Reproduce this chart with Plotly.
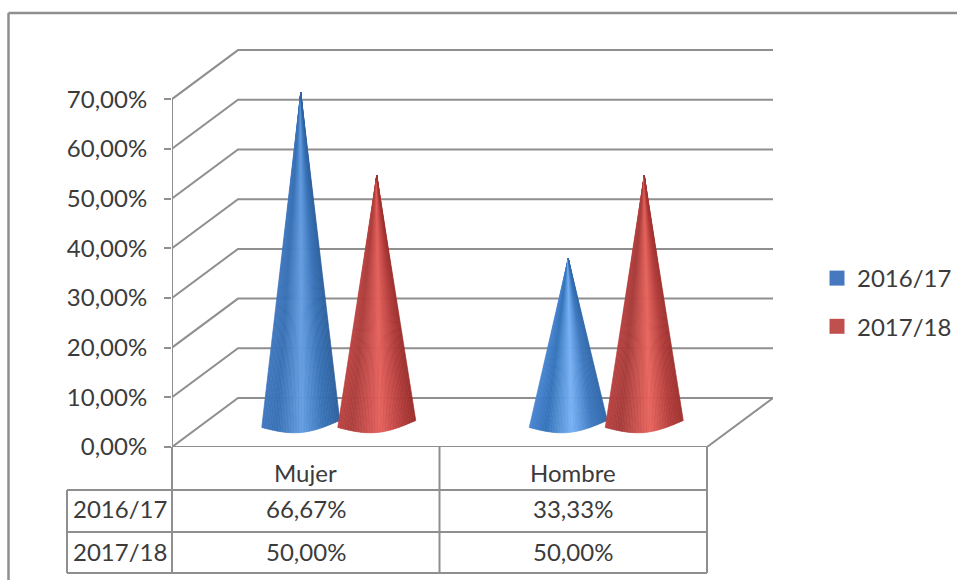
import numpy as np
import plotly.graph_objects as go

categories = ["Mujer", "Hombre"]
series_names = ["2016/17", "2017/18"]
values_2016 = [66.67, 33.33]
values_2017 = [50.0, 50.0]
tick_values = [0, 10, 20, 30, 40, 50, 60, 70]

W, H = 957, 580
L, R, T, B = 172, 773, 49, 447      # plot area in pixels
PX_PER_UNIT_Y = 4.97
PX_PER_CAT = 267.5
DEPTH_X = 66 / PX_PER_CAT
DEPTH_Y = 49 / PX_PER_UNIT_Y
GRID = "#8f8f8f"
TEXT = "#3b3b3b"
FONT = "Lato"
FS = 24

BLUE_STOPS = [
    [(0, "#4279c0"), (0.2, "#3a72b5"), (0.52, "#659ee2"), (0.8, "#3a74b8"), (1, "#2f629f")],
    [(0, "#4a86d2"), (0.22, "#3574ba"), (0.55, "#78b2f5"), (0.82, "#3e78bf"), (1, "#3269aa")],
]
RED_STOPS = [
    [(0, "#bd4543"), (0.18, "#ad403e"), (0.55, "#e5625e"), (0.85, "#b23e3c"), (1, "#9c302e")],
    [(0, "#b84341"), (0.2, "#a83e3c"), (0.58, "#e8665f"), (0.85, "#b33e3c"), (1, "#a03331")],
]


def hex2rgb(c):
    return np.array([int(c[i:i + 2], 16) for i in (1, 3, 5)], float)


def shade(stops, t):
    pos = [s[0] for s in stops]
    rgb = np.array([hex2rgb(s[1]) for s in stops])
    v = [np.interp(t, pos, rgb[:, k]) for k in range(3)]
    return "rgb(%d,%d,%d)" % tuple(v)


def px(x):
    return (x - L) / (W - L)


def py(y):
    return (H - y) / (H - T)


def pct(v):
    return f"{v:.2f}%".replace(".", ",")


fig = go.Figure()

# walls and floor, drawn in axis units
for v in tick_values:
    fig.add_trace(go.Scatter(
        x=[0, DEPTH_X, 2 + DEPTH_X], y=[v, v + DEPTH_Y, v + DEPTH_Y],
        mode="lines", line=dict(color=GRID, width=2), hoverinfo="skip", showlegend=False, cliponaxis=False))
fig.add_trace(go.Scatter(
    x=[2 + DEPTH_X, 2, 0], y=[DEPTH_Y, 0, 0],
    mode="lines", line=dict(color=GRID, width=2), hoverinfo="skip", showlegend=False, cliponaxis=False))
fig.add_trace(go.Scatter(
    x=[0, 0], y=[0, max(tick_values)],
    mode="lines", line=dict(color=GRID, width=2), hoverinfo="skip", showlegend=False, cliponaxis=False))

# cones
OFFSET = 38 / PX_PER_CAT
HALF = 39 / PX_PER_CAT
N = 48
BASE_MID = DEPTH_Y / 2 - 1.5 / PX_PER_UNIT_Y
TILT = 3.5 / PX_PER_UNIT_Y
SAG = 8.5 / PX_PER_UNIT_Y


def add_cone(center, value, stops):
    ts = np.linspace(0, 1, N + 1)
    bx = center + HALF * (2 * ts - 1)
    by = BASE_MID + TILT * (2 * ts - 1) - SAG * np.sin(np.pi * ts)
    apex_y = BASE_MID + value
    for i in range(N):
        col = shade(stops, (ts[i] + ts[i + 1]) / 2)
        fig.add_trace(go.Scatter(
            x=[center, bx[i], bx[i + 1], center], y=[apex_y, by[i], by[i + 1], apex_y],
            mode="lines", fill="toself", fillcolor=col, line=dict(color=col, width=0.7),
            hoverinfo="skip", showlegend=False))


for i, cat in enumerate(categories):
    c = i + 0.5 + DEPTH_X / 2
    add_cone(c - OFFSET, values_2016[i], BLUE_STOPS[i])
    add_cone(c + OFFSET, values_2017[i], RED_STOPS[i])

# legend entries
for name, col in zip(series_names, ["#4678c0", "#c0504d"]):
    fig.add_trace(go.Scatter(
        x=[None], y=[None], mode="markers", name=name, legendgroup=name,
        marker=dict(symbol="square", size=15, color=col)))

# data table
table_x = [67, L, L + PX_PER_CAT, L + 2 * PX_PER_CAT]
table_y = [B, 490, 532, 573]
shapes = []


def seg(x0, y0, x1, y1, width=2, color=GRID):
    shapes.append(dict(type="line", xref="paper", yref="paper",
                       x0=px(x0), y0=py(y0), x1=px(x1), y1=py(y1),
                       line=dict(color=color, width=width)))


for x in table_x[1:]:
    seg(x, table_y[0], x, table_y[3])
seg(table_x[0], table_y[1], table_x[0], table_y[3])
for y in table_y[1:]:
    seg(table_x[0], y, table_x[3], y)
# outer frame
seg(8.5, 13, 957, 13, 2.5)
seg(8.5, 13, 8.5, 580, 2.5)

annotations = []


def label(x, y, text):
    annotations.append(dict(xref="paper", yref="paper", x=px(x), y=py(y), text=text,
                            showarrow=False, xanchor="center", yanchor="middle",
                            font=dict(family=FONT, size=FS, color=TEXT)))


row_y = [(table_y[0] + table_y[1]) / 2 + 4, (table_y[1] + table_y[2]) / 2 - 2, (table_y[2] + table_y[3]) / 2 - 1]
for i, cat in enumerate(categories):
    cx = (table_x[i + 1] + table_x[i + 2]) / 2
    label(cx, row_y[0], cat)
    label(cx, row_y[1], pct(values_2016[i]))
    label(cx, row_y[2], pct(values_2017[i]))
label((table_x[0] + table_x[1]) / 2, row_y[1], series_names[0])
label((table_x[0] + table_x[1]) / 2, row_y[2], series_names[1])

fig.update_layout(
    width=W, height=H, autosize=False,
    margin=dict(l=L, r=0, t=T, b=0, pad=0, autoexpand=False),
    paper_bgcolor="white", plot_bgcolor="white",
    shapes=shapes, annotations=annotations,
    font=dict(family=FONT, size=FS, color=TEXT),
    legend=dict(x=px(817), y=py(256), xanchor="left", yanchor="top",
                tracegroupgap=14, itemwidth=30, bgcolor="rgba(0,0,0,0)",
                font=dict(family=FONT, size=FS, color=TEXT)),
    xaxis=dict(range=[0, 2 + DEPTH_X], domain=[0, (R - L) / (W - L)], anchor="y",
               showgrid=False, zeroline=False, showticklabels=False,
               ticks="", showline=False, fixedrange=True),
    yaxis=dict(range=[0, (B - T) / PX_PER_UNIT_Y], domain=[py(B), py(T)],
               anchor="x", showgrid=False, zeroline=False,
               tickvals=tick_values, ticktext=[pct(v) for v in tick_values],
               ticks="outside", ticklen=7, tickwidth=2, tickcolor=GRID,
               ticklabelstandoff=12, showline=False, fixedrange=True),
)

fig.write_html("out.html", config={"displayModeBar": False},
               post_script="document.body.style.margin='0';document.body.style.overflow='hidden';")
